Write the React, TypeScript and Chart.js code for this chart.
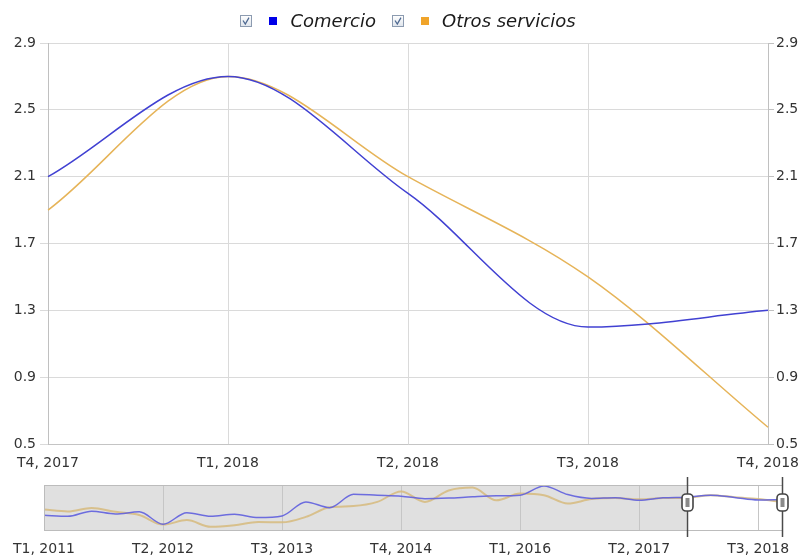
import React, { useEffect, useRef } from 'react';
import { Chart, registerables } from 'chart.js';

Chart.register(...registerables);

// ---------- data ----------
const seriesNames = ['Comercio', 'Otros servicios'];

const mainLabels = ['T4, 2017', 'T1, 2018', 'T2, 2018', 'T3, 2018', 'T4, 2018'];
const comercioMain = [2.1, 2.7, 2.0, 1.2, 1.3];
const otrosMain = [1.9, 2.7, 2.1, 1.5, 0.6];
const yTicks = [0.5, 0.9, 1.3, 1.7, 2.1, 2.5, 2.9];

const navLabels = [
  'T1, 2011', 'T2, 2011', 'T3, 2011', 'T4, 2011',
  'T1, 2012', 'T2, 2012', 'T3, 2012', 'T4, 2012',
  'T1, 2013', 'T2, 2013', 'T3, 2013', 'T4, 2013',
  'T1, 2014', 'T2, 2014', 'T3, 2014', 'T4, 2014',
  'T1, 2015', 'T2, 2015', 'T3, 2015', 'T4, 2015',
  'T1, 2016', 'T2, 2016', 'T3, 2016', 'T4, 2016',
  'T1, 2017', 'T2, 2017', 'T3, 2017', 'T4, 2017',
  'T1, 2018', 'T2, 2018', 'T3, 2018', 'T4, 2018',
];
const comercioNav = [
  -3.6, -3.9, -2.3, -3.2, -2.5, -6.4, -2.8, -3.9,
  -3.3, -4.3, -3.8, 0.6, -1.2, 3.0, 2.7, 2.4,
  1.6, 1.8, 2.2, 2.5, 2.7, 5.6, 2.9, 1.7,
  1.9, 1.1, 1.9, 2.1, 2.7, 2.0, 1.2, 1.3,
];
const otrosNav = [
  -1.8, -2.4, -1.3, -2.5, -3.5, -6.5, -5.1, -7.2,
  -6.7, -5.7, -5.8, -4.1, -1.1, -0.7, 0.6, 3.9,
  0.6, 4.2, 5.1, 1.1, 3.2, 2.7, 0.1, 1.5,
  1.8, 1.4, 1.8, 1.9, 2.7, 2.1, 1.5, 0.6,
];
const navTickLabels = ['T1, 2011', 'T2, 2012', 'T3, 2013', 'T4, 2014', 'T1, 2016', 'T2, 2017', 'T3, 2018'];
const selStart = 'T4, 2017';
const selEnd = 'T4, 2018';
const navMin = -8.2;
const navMax = 5.9;

// ---------- styles ----------
const FONT = '"DejaVu Sans", Verdana, sans-serif';
const tickFont = { family: FONT, size: 14 };
const tickColor = '#333333';
const blueLine = '#4141d2';
const orangeLine = '#e6b459';
const legendSquares = ['#0000e8', '#f0a42a'];

const legendPlugin = {
  id: 'checkLegend',
  afterDraw(chart: any) {
    const ctx = chart.ctx;
    const area = chart.chartArea;
    ctx.save();
    ctx.font = `italic 18px ${FONT}`;
    const labels = chart.data.datasets.map((d: any) => d.label as string);
    const widths = labels.map((l: string) => ctx.measureText(l).width);
    const cb = 11, g1 = 18, sq = 8, g2 = 13, between = 16;
    let total = 0;
    widths.forEach((w: number) => (total += cb + g1 + sq + g2 + w));
    total += between * (labels.length - 1);
    let x = (area.left + area.right) / 2 - total / 2;
    const cy = 21;
    labels.forEach((label: string, i: number) => {
      // checkbox
      const bx = Math.round(x) + 0.5, by = cy - 6 + 0.5;
      const grad = ctx.createLinearGradient(0, by, 0, by + cb);
      grad.addColorStop(0, '#ffffff');
      grad.addColorStop(1, '#dfe5ec');
      ctx.fillStyle = grad;
      ctx.fillRect(bx, by, cb, cb);
      ctx.strokeStyle = '#8c9bb0';
      ctx.lineWidth = 1;
      ctx.strokeRect(bx, by, cb, cb);
      ctx.strokeStyle = '#4d6890';
      ctx.lineWidth = 1.3;
      ctx.beginPath();
      ctx.moveTo(bx + 2.5, by + 5);
      ctx.lineTo(bx + 4.8, by + 8.5);
      ctx.lineTo(bx + 8.5, by + 2.2);
      ctx.stroke();
      x += cb + g1;
      // square
      ctx.fillStyle = legendSquares[i];
      ctx.fillRect(Math.round(x), cy - 4, sq, sq);
      x += sq + g2;
      // text
      ctx.fillStyle = '#1a1a1a';
      ctx.textBaseline = 'middle';
      ctx.textAlign = 'left';
      ctx.fillText(label, x, cy + 1);
      x += widths[i] + between;
    });
    ctx.restore();
  },
};

const navPlugin = {
  id: 'navigatorDeco',
  beforeDraw(chart: any) {
    const ctx = chart.ctx;
    const a = chart.chartArea;
    const xs = chart.scales.x;
    const h1 = xs.getPixelForValue(navLabels.indexOf(selStart));
    ctx.save();
    ctx.fillStyle = '#e0e0e0';
    ctx.fillRect(a.left, a.top, h1 - a.left, a.bottom - a.top);
    ctx.fillStyle = '#ffffff';
    ctx.fillRect(h1, a.top, a.right - h1, a.bottom - a.top);
    ctx.restore();
  },
  afterDraw(chart: any) {
    const ctx = chart.ctx;
    const a = chart.chartArea;
    const xs = chart.scales.x;
    ctx.save();
    ctx.strokeStyle = '#bcbcbc';
    ctx.lineWidth = 1;
    ctx.strokeRect(Math.round(a.left) + 0.5, Math.round(a.top) + 0.5, Math.round(a.right - a.left), Math.round(a.bottom - a.top));
    [selStart, selEnd].forEach((lab) => {
      const hx = Math.round(xs.getPixelForValue(navLabels.indexOf(lab))) + 0.5;
      ctx.strokeStyle = '#4a4a4a';
      ctx.lineWidth = 1.5;
      ctx.beginPath();
      ctx.moveTo(hx, a.top - 8);
      ctx.lineTo(hx, a.bottom + 7);
      ctx.stroke();
      const gw = 11, gh = 17, gy = a.top + 9;
      ctx.beginPath();
      ctx.roundRect(hx - gw / 2, gy, gw, gh, 4);
      ctx.fillStyle = '#ffffff';
      ctx.fill();
      ctx.lineWidth = 1.6;
      ctx.strokeStyle = '#444444';
      ctx.stroke();
      ctx.fillStyle = '#8a8a8a';
      ctx.fillRect(hx - 2, gy + 4, 4, gh - 8);
    });
    ctx.restore();
  },
};

export default function App() {
  const mainRef = useRef<HTMLCanvasElement>(null);
  const navRef = useRef<HTMLCanvasElement>(null);

  useEffect(() => {
    const setTicks = (s: any) => {
      s.ticks = yTicks.map((v) => ({ value: v }));
    };
    const main = new Chart(mainRef.current as HTMLCanvasElement, {
      type: 'line',
      data: {
        labels: mainLabels,
        datasets: [
          { label: seriesNames[0], data: comercioMain, borderColor: blueLine, borderWidth: 1.5, pointRadius: 0, cubicInterpolationMode: 'monotone', fill: false, yAxisID: 'y' },
          { label: seriesNames[1], data: otrosMain, borderColor: orangeLine, borderWidth: 1.5, pointRadius: 0, cubicInterpolationMode: 'monotone', fill: false, yAxisID: 'y' },
        ],
      },
      options: {
        responsive: false,
        animation: false,
        events: [],
        layout: { padding: { top: 43, left: 0, right: 0, bottom: 0 } },
        plugins: { legend: { display: false }, tooltip: { enabled: false }, title: { display: false } },
        scales: {
          x: {
            type: 'category',
            offset: false,
            grid: { color: '#dadada', drawTicks: false, offset: false },
            border: { color: '#c4c4c4' },
            ticks: { font: tickFont, color: tickColor, padding: 11, maxRotation: 0, autoSkip: false },
            afterFit: (s: any) => { s.height = 28; },
          },
          y: {
            position: 'left',
            min: 0.5,
            max: 2.9,
            afterBuildTicks: setTicks,
            grid: { color: '#dadada', tickLength: 8 },
            border: { color: '#c0c0c0' },
            ticks: { font: tickFont, color: tickColor, padding: 4, callback: (v: any) => Number(v).toFixed(1) },
            afterFit: (s: any) => { s.width = 48; },
          },
          y1: {
            position: 'right',
            min: 0.5,
            max: 2.9,
            afterBuildTicks: setTicks,
            grid: { drawOnChartArea: false, color: '#c0c0c0', tickLength: 6 },
            border: { color: '#c0c0c0' },
            ticks: { font: tickFont, color: tickColor, padding: 2, callback: (v: any) => Number(v).toFixed(1) },
            afterFit: (s: any) => { s.width = 36; },
          },
        },
      } as any,
      plugins: [legendPlugin],
    });

    const nav = new Chart(navRef.current as HTMLCanvasElement, {
      type: 'line',
      data: {
        labels: navLabels,
        datasets: [
          { label: seriesNames[0], data: comercioNav, borderColor: 'rgba(95,95,222,0.9)', borderWidth: 1.5, pointRadius: 0, cubicInterpolationMode: 'monotone', fill: false },
          { label: seriesNames[1], data: otrosNav, borderColor: 'rgba(214,186,124,0.85)', borderWidth: 2, pointRadius: 0, cubicInterpolationMode: 'monotone', fill: false },
        ],
      },
      options: {
        responsive: false,
        animation: false,
        events: [],
        layout: { padding: { top: 13, left: 44, right: 28, bottom: 0 } },
        plugins: { legend: { display: false }, tooltip: { enabled: false } },
        scales: {
          x: {
            type: 'category',
            offset: false,
            grid: {
              color: (c: any) => (navTickLabels.includes(navLabels[c.index]) ? '#c6c6c6' : 'rgba(0,0,0,0)'),
              drawTicks: false,
            },
            border: { display: false },
            ticks: {
              font: tickFont,
              color: tickColor,
              padding: 11,
              maxRotation: 0,
              autoSkip: false,
              callback: (_v: any, i: number) => (navTickLabels.includes(navLabels[i]) ? navLabels[i] : ''),
            },
            afterFit: (s: any) => { s.height = 27; },
          },
          y: { display: false, min: navMin, max: navMax },
        },
      } as any,
      plugins: [navPlugin],
    });

    return () => {
      main.destroy();
      nav.destroy();
    };
  }, []);

  return (
    <div style={{ position: 'absolute', left: 0, top: 0, width: 810, height: 557, background: '#ffffff', overflow: 'hidden' }}>
      <canvas ref={mainRef} width={810} height={472} style={{ position: 'absolute', left: 0, top: 0, width: 810, height: 472 }} />
      <canvas ref={navRef} width={810} height={85} style={{ position: 'absolute', left: 0, top: 472, width: 810, height: 85 }} />
    </div>
  );
}
